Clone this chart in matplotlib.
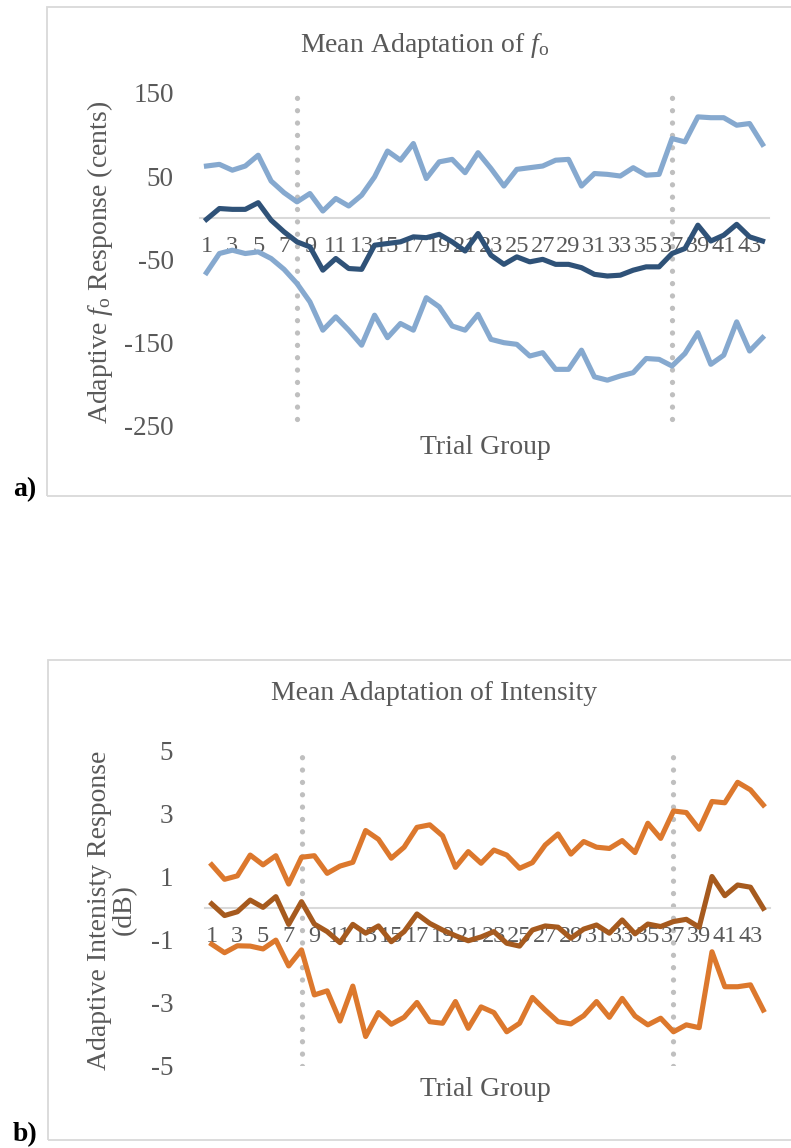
import numpy as np
import matplotlib
matplotlib.use('Agg')
import matplotlib.pyplot as plt
from matplotlib.patches import Rectangle

plt.rcParams['font.family'] = ['Liberation Serif', 'DejaVu Serif']
plt.rcParams['mathtext.fontset'] = 'custom'
plt.rcParams['mathtext.rm'] = 'Liberation Serif'
plt.rcParams['mathtext.it'] = 'Liberation Serif:italic'

# trial groups 1..44
trials = np.arange(1, 45)

# f0 adaptation (cents)
f0_upper = [62, 64, 57, 62, 75, 44, 30, 19, 29, 8, 23, 14, 27, 49, 80, 69, 89, 47, 67, 70,
            54, 78, 59, 38, 58, 60, 62, 69, 70, 38, 53, 52, 50, 60, 51, 52, 95, 91, 121, 120,
            120, 111, 113, 88]
f0_mean = [-2, 11, 10, 10, 18, -3, -17, -29, -35, -63, -49, -61, -62, -33, -31, -29, -23, -24, -20, -29,
           -40, -19, -45, -56, -47, -53, -50, -56, -56, -60, -68, -70, -69, -63, -59, -59, -43, -37, -9, -28,
           -21, -8, -23, -28]
f0_lower = [-66, -43, -39, -43, -41, -49, -62, -79, -101, -135, -119, -135, -153, -117, -144, -127, -135, -96, -107, -130,
            -135, -116, -146, -150, -152, -166, -162, -182, -182, -159, -191, -195, -190, -186, -169, -170, -178, -163, -138, -176,
            -165, -125, -160, -144]

# intensity adaptation (dB)
int_upper = [1.38, 0.92, 1.03, 1.69, 1.38, 1.67, 0.77, 1.62, 1.67, 1.11, 1.34, 1.46, 2.47, 2.19, 1.59, 1.94, 2.57, 2.65, 2.30, 1.30,
             1.80, 1.43, 1.85, 1.69, 1.27, 1.45, 2.01, 2.36, 1.72, 2.12, 1.94, 1.90, 2.15, 1.77, 2.70, 2.22, 3.09, 3.04, 2.51, 3.39,
             3.35, 4.00, 3.76, 3.28]
int_mean = [0.14, -0.23, -0.11, 0.26, 0.03, 0.37, -0.51, 0.21, -0.50, -0.74, -1.09, -0.51, -0.79, -0.56, -1.06, -0.74, -0.18, -0.48, -0.69, -0.87,
            -1.03, -0.91, -0.74, -1.11, -1.20, -0.69, -0.56, -0.60, -0.95, -0.66, -0.53, -0.79, -0.37, -0.81, -0.50, -0.58, -0.42, -0.35, -0.60, 1.01,
            0.40, 0.74, 0.67, 0.00]
int_lower = [-1.14, -1.41, -1.19, -1.20, -1.29, -1.01, -1.83, -1.32, -2.75, -2.62, -3.58, -2.47, -4.07, -3.31, -3.68, -3.46, -2.99, -3.60, -3.65, -2.96,
             -3.81, -3.13, -3.31, -3.92, -3.65, -2.83, -3.23, -3.60, -3.67, -3.41, -2.96, -3.46, -2.86, -3.42, -3.70, -3.49, -3.92, -3.70, -3.79, -1.38,
             -2.49, -2.49, -2.43, -3.23]

phase_marks = [8, 37]
f0_ticks = [-250, -150, -50, 50, 150]
int_ticks = [-5, -3, -1, 1, 3, 5]

gray_txt = '#595959'
W, H = 791, 1148
fig = plt.figure(figsize=(W / 100, H / 100), dpi=100)


def box(x0, y0, x1, y1):
    fig.patches.append(Rectangle((x0 / W, 1 - y1 / H), (x1 - x0) / W, (y1 - y0) / H,
                                 transform=fig.transFigure, fill=False,
                                 edgecolor='#D9D9D9', linewidth=1.3))


def style_ax(ax, yticks, ypad):
    for s in ['top', 'right', 'left']:
        ax.spines[s].set_visible(False)
    ax.spines['bottom'].set_position(('data', 0))
    ax.spines['bottom'].set_color('#D9D9D9')
    ax.spines['bottom'].set_linewidth(1.5)
    ax.set_xlim(0.5, 44.5)
    odd = trials[::2]
    ax.set_xticks(odd)
    ax.set_xticklabels([str(t) for t in odd])
    ax.tick_params(axis='x', length=0, pad=13, labelsize=17.5, labelcolor=gray_txt)
    ax.set_yticks(yticks)
    ax.set_yticklabels([str(t) for t in yticks])
    ax.tick_params(axis='y', length=0, pad=ypad, labelsize=19.5, labelcolor=gray_txt)
    ax.patch.set_visible(False)


# ---- a) f0 ----
ax1 = fig.add_axes([200 / W, 1 - 426 / H, 569 / W, 333.3 / H])
style_ax(ax1, f0_ticks, 19)
ax1.set_ylim(-250, 150)
for m in phase_marks:
    ax1.plot([m, m], [-242, 145], color='#BFBFBF', linewidth=3.8,
             linestyle=(0, (0.01, 2.33)), dash_capstyle='round', zorder=1)
ax1.plot(trials, f0_upper, color='#86A9CF', linewidth=3.7, solid_joinstyle='round', zorder=2)
ax1.plot(trials, f0_lower, color='#86A9CF', linewidth=3.7, solid_joinstyle='round', zorder=2)
ax1.plot(trials, f0_mean, color='#2F5278', linewidth=3.7, solid_joinstyle='round', zorder=3)

box(47, 7, 800, 496)
fig.text(425 / W, 1 - 45 / H, r'Mean Adaptation of $\mathit{f}_{\mathrm{o}}$', ha='center', va='center',
         fontsize=20, color=gray_txt)
fig.text(485 / W, 1 - 447 / H, 'Trial Group', ha='center', va='center', fontsize=20, color=gray_txt)
fig.text(100 / W, 1 - 262 / H, r'Adaptive $\mathit{f}_{\mathrm{o}}$ Response (cents)', ha='center', va='center',
         rotation=90, fontsize=20, color=gray_txt)
fig.text(25 / W, 1 - 490 / H, 'a)', ha='center', va='center', fontsize=20, fontweight='bold', color='black')

# ---- b) intensity ----
ax2 = fig.add_axes([205.3 / W, 1 - 1065.8 / H, 564.4 / W, 315 / H])
style_ax(ax2, int_ticks, 23)
ax2.set_ylim(-5, 5)
for m in phase_marks:
    ax2.plot([m, m], [-5, 5], color='#BFBFBF', linewidth=3.8,
             linestyle=(0, (0.01, 2.33)), dash_capstyle='round', zorder=1)
ax2.plot(trials, int_upper, color='#DC782D', linewidth=3.7, solid_joinstyle='round', zorder=2)
ax2.plot(trials, int_lower, color='#DC782D', linewidth=3.7, solid_joinstyle='round', zorder=2)
ax2.plot(trials, int_mean, color='#A65A1E', linewidth=3.7, solid_joinstyle='round', zorder=3)

box(48, 660, 800, 1140)
fig.text(434 / W, 1 - 694 / H, 'Mean Adaptation of Intensity', ha='center', va='center',
         fontsize=20, color=gray_txt)
fig.text(485 / W, 1 - 1090 / H, 'Trial Group', ha='center', va='center', fontsize=20, color=gray_txt)
fig.text(112 / W, 1 - 910 / H, 'Adaptive Intenisty Response\n(dB)', ha='center', va='center',
         rotation=90, fontsize=20, color=gray_txt, linespacing=1.0)
fig.text(25 / W, 1 - 1135 / H, 'b)', ha='center', va='center', fontsize=20, fontweight='bold', color='black')

fig.savefig('out.png', dpi=100)
print('done!')
